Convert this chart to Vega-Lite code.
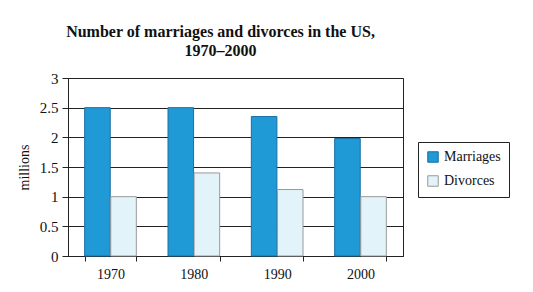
{
  "$schema": "https://vega.github.io/schema/vega-lite/v6.json",
  "autosize": {"type": "none"},
  "width": 335,
  "height": 178,
  "padding": {"left": 68, "top": 78, "right": 130, "bottom": 36},
  "background": "white",
  "title": {
    "text": ["Number of marriages and divorces in the US,", "1970–2000"],
    "font": "Liberation Serif",
    "fontSize": 16,
    "fontWeight": "bold",
    "color": "#111",
    "anchor": "middle",
    "dx": -15,
    "dy": 5,
    "offset": 17,
    "lineHeight": 19
  },
  "config": {
    "view": {"stroke": "#222", "strokeWidth": 1},
    "font": "Liberation Serif"
  },
  "data": {
    "values": [
      {"year": "1970", "type": "Marriages", "value": 2.5},
      {"year": "1970", "type": "Divorces", "value": 1.0},
      {"year": "1980", "type": "Marriages", "value": 2.5},
      {"year": "1980", "type": "Divorces", "value": 1.4},
      {"year": "1990", "type": "Marriages", "value": 2.35},
      {"year": "1990", "type": "Divorces", "value": 1.12},
      {"year": "2000", "type": "Marriages", "value": 1.98},
      {"year": "2000", "type": "Divorces", "value": 1.0}
    ]
  },
  "mark": {"type": "bar", "strokeWidth": 1},
  "encoding": {
    "x": {
      "field": "year",
      "type": "nominal",
      "scale": {"paddingInner": 0.38, "paddingOuter": 0.2},
      "axis": {
        "title": null,
        "labelAngle": 0,
        "labelFont": "Liberation Serif",
        "labelFontSize": 14,
        "labelColor": "#111",
        "domainColor": "#222",
        "tickColor": "#222",
        "tickBand": "extent",
        "tickSize": 5,
        "labelPadding": 6
      }
    },
    "xOffset": {"field": "type", "sort": ["Marriages", "Divorces"], "scale": {"paddingInner": 0.02}},
    "y": {
      "field": "value",
      "type": "quantitative",
      "scale": {"domain": [0, 3], "nice": false},
      "axis": {
        "title": "millions",
        "titleFont": "Liberation Serif",
        "titleFontSize": 14,
        "titleFontWeight": "normal",
        "titleColor": "#111",
        "titlePadding": 8,
        "values": [0, 0.5, 1, 1.5, 2, 2.5, 3],
        "format": "~g",
        "labelFont": "Liberation Serif",
        "labelFontSize": 15,
        "labelColor": "#111",
        "gridColor": "#222",
        "gridOpacity": 1,
        "domainColor": "#222",
        "tickColor": "#222",
        "tickSize": 6,
        "labelPadding": 4
      }
    },
    "color": {
      "field": "type",
      "type": "nominal",
      "sort": ["Marriages", "Divorces"],
      "scale": {"domain": ["Marriages", "Divorces"], "range": ["#1f9ad6", "#e2f3fa"]},
      "legend": {
        "title": null,
        "orient": "none",
        "legendX": 350,
        "legendY": 64,
        "symbolType": "square",
        "symbolSize": 110,
        "symbolStrokeColor": "#333",
        "symbolStrokeWidth": 1,
        "labelFont": "Liberation Serif",
        "labelFontSize": 14,
        "labelColor": "#111",
        "strokeColor": "#222",
        "padding": 8,
        "rowPadding": 8,
        "labelOffset": 4
      }
    },
    "stroke": {
      "field": "type",
      "type": "nominal",
      "scale": {"domain": ["Marriages", "Divorces"], "range": ["#1a6fa0", "#999999"]},
      "legend": null
    }
  }
}
